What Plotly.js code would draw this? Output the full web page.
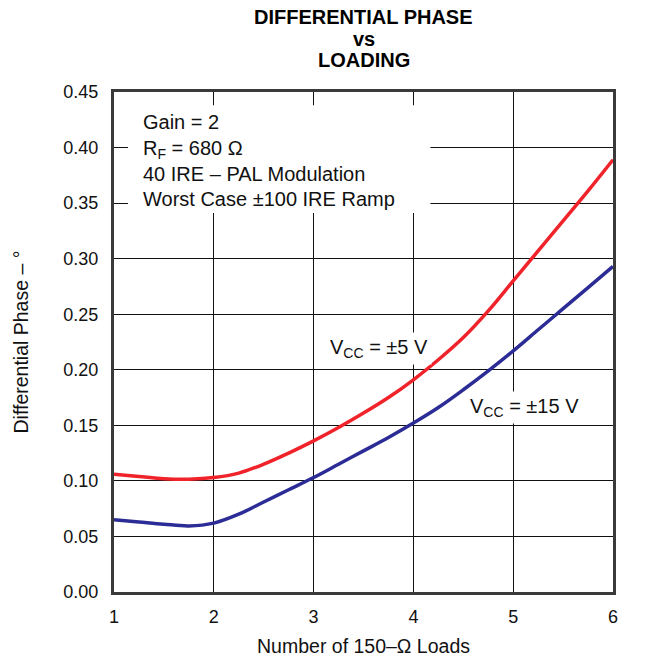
<!DOCTYPE html>
<html>
<head>
<meta charset="utf-8">
<script src="https://cdn.plot.ly/plotly-3.0.1.min.js"></script>
<style>
  html, body { margin: 0; padding: 0; background: #ffffff; }
  #chart { width: 668px; height: 659px; }
</style>
</head>
<body>
<div id="chart"></div>
<script>
// Number of 150-ohm loads
const loads = [1, 1.25, 1.5, 1.75, 2, 2.25, 2.5, 2.75, 3, 3.25, 3.5, 3.75, 4, 4.25, 4.5, 4.75, 5, 5.25, 5.5, 5.75, 6];
// Differential phase (degrees), VCC = ±5 V
const phaseVcc5 = [0.106, 0.104, 0.102, 0.1015, 0.103, 0.107, 0.115, 0.125, 0.136, 0.148, 0.161, 0.175, 0.191, 0.209, 0.229, 0.253, 0.280, 0.307, 0.334, 0.361, 0.389];
// Differential phase (degrees), VCC = ±15 V
const phaseVcc15 = [0.065, 0.063, 0.061, 0.0595, 0.062, 0.070, 0.081, 0.092, 0.103, 0.115, 0.127, 0.139, 0.152, 0.166, 0.182, 0.199, 0.217, 0.236, 0.255, 0.274, 0.293];

const xTicks = [1, 2, 3, 4, 5, 6];
const yTicks = [0, 0.05, 0.10, 0.15, 0.20, 0.25, 0.30, 0.35, 0.40, 0.45];

const titleLines = ['DIFFERENTIAL PHASE', 'vs', 'LOADING'];
const conditionLines = ['Gain = 2', 'R<sub>F</sub> = 680 Ω', '40 IRE – PAL Modulation', 'Worst Case ±100 IRE Ramp'];
const seriesLabels = ['V<sub>CC</sub> = ±5 V', 'V<sub>CC</sub> = ±15 V'];

const FONT = 'Liberation Sans, Arial, Helvetica, sans-serif';

const traces = [
  { x: loads, y: phaseVcc5, mode: 'lines', line: { color: '#f0222a', width: 3.5, shape: 'spline', smoothing: 1 }, name: 'VCC = ±5 V', hoverinfo: 'x+y' },
  { x: loads, y: phaseVcc15, mode: 'lines', line: { color: '#2c2c96', width: 3.5, shape: 'spline', smoothing: 1 }, name: 'VCC = ±15 V', hoverinfo: 'x+y' }
];

const annotations = [];
const titleY = [1.150, 1.106, 1.064];
titleLines.forEach((t, i) => {
  annotations.push({ xref: 'paper', yref: 'paper', x: 0.5, y: titleY[i], xanchor: 'center', yanchor: 'middle',
    text: '<b>' + t + '</b>', showarrow: false, font: { family: FONT, size: 20, color: '#000' } });
});
const condY = [0.423, 0.398, 0.376, 0.354];
conditionLines.forEach((t, i) => {
  annotations.push({ xref: 'x', yref: 'y', x: 1.27, y: condY[i], xanchor: 'left', yanchor: 'middle',
    text: t, showarrow: false, font: { family: FONT, size: 20, color: '#111' } });
});
annotations.push({ xref: 'x', yref: 'y', x: 3.12, y: 0.219, xanchor: 'left', yanchor: 'middle',
  text: seriesLabels[0], showarrow: false, bgcolor: '#ffffff', borderpad: 3, font: { family: FONT, size: 20, color: '#111' } });
annotations.push({ xref: 'x', yref: 'y', x: 4.53, y: 0.166, xanchor: 'left', yanchor: 'middle',
  text: seriesLabels[1], showarrow: false, bgcolor: '#ffffff', borderpad: 3, font: { family: FONT, size: 20, color: '#111' } });

const layout = {
  width: 668, height: 659,
  margin: { l: 114, r: 55, t: 92, b: 67 },
  paper_bgcolor: '#ffffff', plot_bgcolor: '#ffffff',
  showlegend: false,
  font: { family: FONT, color: '#111' },
  xaxis: {
    range: [1, 6], tickvals: xTicks, ticktext: xTicks.map(String),
    showgrid: true, gridcolor: '#111', gridwidth: 1.2, zeroline: false,
    showline: true, linecolor: '#3a3a3a', linewidth: 3, mirror: true,
    ticks: 'outside', ticklen: 6, tickcolor: 'rgba(0,0,0,0)',
    tickfont: { family: FONT, size: 18, color: '#111' },
    title: { text: 'Number of 150–Ω Loads', font: { family: FONT, size: 19.5, color: '#111' }, standoff: 14 }
  },
  yaxis: {
    range: [0, 0.45], tickvals: yTicks, ticktext: yTicks.map(v => v.toFixed(2)),
    showgrid: true, gridcolor: '#111', gridwidth: 1.2, zeroline: false,
    showline: true, linecolor: '#3a3a3a', linewidth: 3, mirror: true,
    ticks: 'outside', ticklen: 9, tickcolor: 'rgba(0,0,0,0)',
    tickfont: { family: FONT, size: 18, color: '#111' },
    title: { text: 'Differential Phase – °', font: { family: FONT, size: 19.5, color: '#111' }, standoff: 30 }
  },
  shapes: [
    { type: 'rect', xref: 'x', yref: 'y', x0: 1.14, x1: 4.17, y0: 0.341, y1: 0.438,
      fillcolor: '#ffffff', line: { width: 0 }, layer: 'between' }
  ],
  annotations: annotations
};

Plotly.newPlot('chart', traces, layout, { staticPlot: true, displayModeBar: false });
</script>
</body>
</html>
